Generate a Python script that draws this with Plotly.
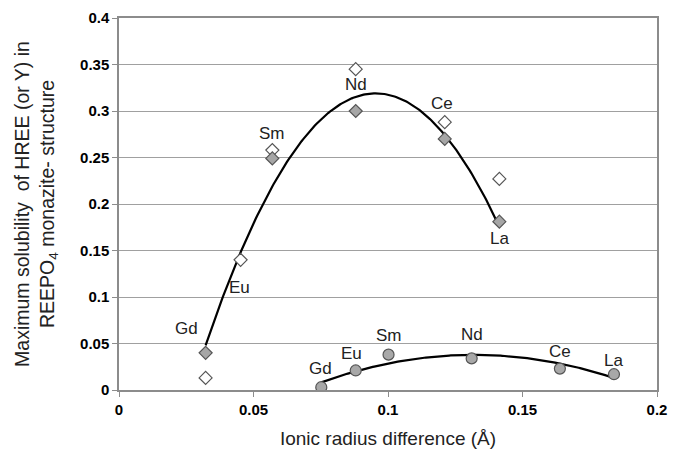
import numpy as np
import plotly.graph_objects as go

# Elements (labels) and ionic radius differences (Å)
upper_elems = ["Gd", "Eu", "Sm", "Nd", "Ce", "La"]
upper_x = [0.0322, 0.0452, 0.0570, 0.0880, 0.1211, 0.1414]
# Upper series: computed (filled) and alternative (open) solubilities
upper_filled = [0.040, 0.140, 0.249, 0.300, 0.270, 0.181]
upper_open = [0.013, 0.140, 0.258, 0.345, 0.288, 0.227]

lower_elems = ["Gd", "Eu", "Sm", "Nd", "Ce", "La"]
lower_x = [0.0752, 0.0880, 0.1002, 0.1311, 0.1639, 0.1840]
lower_y = [0.003, 0.021, 0.038, 0.034, 0.023, 0.017]

x_ticks = [0, 0.05, 0.1, 0.15, 0.2]
y_ticks = [0, 0.05, 0.1, 0.15, 0.2, 0.25, 0.3, 0.35, 0.4]

FONT = "Liberation Sans, Arial, sans-serif"

fig = go.Figure()

# Second-order polynomial trendlines
up_coef = np.polyfit(upper_x, upper_filled, 2)
ux = np.linspace(min(upper_x), max(upper_x), 200)
fig.add_trace(go.Scatter(x=ux, y=np.polyval(up_coef, ux), mode="lines",
                         line=dict(color="black", width=2.2), hoverinfo="skip"))
lo_coef = np.polyfit(lower_x, lower_y, 2)
lx = np.linspace(min(lower_x), max(lower_x), 200)
fig.add_trace(go.Scatter(x=lx, y=np.polyval(lo_coef, lx), mode="lines",
                         line=dict(color="black", width=2.2), hoverinfo="skip"))

# Open diamonds
fig.add_trace(go.Scatter(x=upper_x, y=upper_open, mode="markers",
                         marker=dict(symbol="diamond", size=10, color="white",
                                     line=dict(color="#555555", width=1.2))))
# Filled diamonds (Eu has one marker only)
fx = [x for i, x in enumerate(upper_x) if upper_elems[i] != "Eu"]
fy = [y for i, y in enumerate(upper_filled) if upper_elems[i] != "Eu"]
fig.add_trace(go.Scatter(x=fx, y=fy, mode="markers",
                         marker=dict(symbol="diamond", size=10, color="#a6a6a6",
                                     line=dict(color="#555555", width=1.2))))
# Circles
fig.add_trace(go.Scatter(x=lower_x, y=lower_y, mode="markers",
                         marker=dict(symbol="circle", size=11, color="#a8a8a8",
                                     line=dict(color="#555555", width=1.2))))

# Element labels
upper_lab_pos = [(0.0252, 0.066), (0.0448, 0.110), (0.0568, 0.276),
                 (0.0880, 0.328), (0.1200, 0.308), (0.1414, 0.163)]
lower_lab_pos = [(0.0750, 0.023), (0.0865, 0.039), (0.1002, 0.059),
                 (0.1311, 0.060), (0.1639, 0.041), (0.1840, 0.032)]
for name, (lx_, ly_) in zip(upper_elems, upper_lab_pos):
    fig.add_annotation(x=lx_, y=ly_, text=name, showarrow=False,
                       font=dict(family=FONT, size=17, color="#222222"))
for name, (lx_, ly_) in zip(lower_elems, lower_lab_pos):
    fig.add_annotation(x=lx_, y=ly_, text=name, showarrow=False,
                       font=dict(family=FONT, size=17, color="#222222"))

axis_common = dict(showline=True, linecolor="#8c8c8c", linewidth=1.5,
                   mirror=True, ticks="outside", ticklen=5, tickcolor="#8c8c8c",
                   zeroline=False,
                   tickfont=dict(family=FONT, size=15, color="black", weight="bold"))

fig.update_xaxes(range=[0, 0.2], tickvals=x_ticks,
                 ticktext=[f"{v:g}" for v in x_ticks], showgrid=False,
                 title=dict(text="Ionic radius difference (Å)",
                            font=dict(family=FONT, size=19, color="#222222"),
                            standoff=15),
                 **axis_common)
fig.update_yaxes(range=[0, 0.4], tickvals=y_ticks,
                 ticktext=[f"{v:g}" for v in y_ticks], showgrid=True,
                 gridcolor="#a0a0a0", gridwidth=1.2,
                 title=dict(text="Maximum solubility  of HREE (or Y) in<br>REEPO<sub>4</sub> monazite- structure",
                            font=dict(family=FONT, size=19.5, color="#222222"),
                            standoff=20),
                 **axis_common)

fig.update_layout(width=684, height=459, showlegend=False,
                  margin=dict(l=119, r=27, t=9, b=69),
                  plot_bgcolor="white", paper_bgcolor="white")

fig.write_html("out.html")
